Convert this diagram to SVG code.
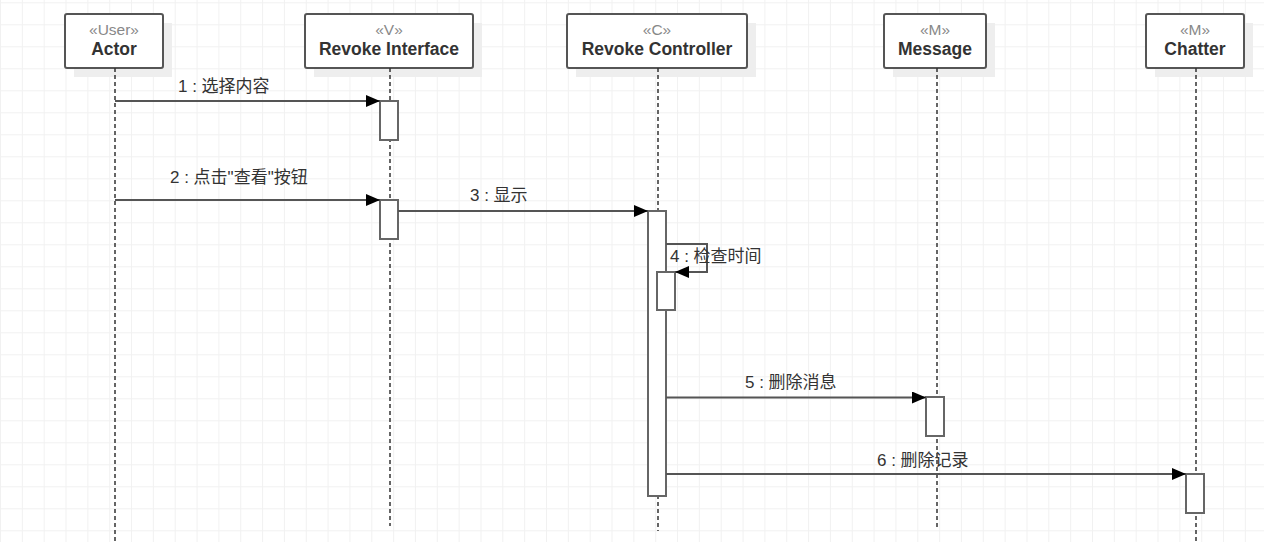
<svg xmlns="http://www.w3.org/2000/svg" width="1264" height="542" viewBox="0 0 1264 542">
<defs>
<pattern id="grid" patternUnits="userSpaceOnUse" x="0" y="2.3" width="21.84" height="22">
<path d="M0.5 0 V22 M0 0.5 H21.84" fill="none" stroke="#f1f1f1" stroke-width="1"/>
</pattern>
<marker id="arr" viewBox="0 0 14 12" refX="14" refY="6" markerWidth="14" markerHeight="12" markerUnits="userSpaceOnUse" orient="auto">
<path d="M0 0 L14 6 L0 12 Z" fill="#000"/>
</marker>
</defs>
<style>
.shadow{fill:#eeeeee}
.box{fill:#fff;stroke:#555;stroke-width:2}
.stereo{font-family:"Liberation Sans",Arial,sans-serif;font-size:15.5px;fill:#888;text-anchor:middle}
.name{font-family:"Liberation Sans",Arial,sans-serif;font-size:17.5px;font-weight:bold;fill:#333;text-anchor:middle}
.life{stroke:#333;stroke-width:1.5;stroke-dasharray:4 3;fill:none}
.act{fill:#fff;stroke:#666;stroke-width:2}
.msg{stroke:#555;stroke-width:2;fill:none;marker-end:url(#arr)}
.lbl{font-family:"Liberation Sans","Noto Sans CJK SC",sans-serif;font-size:17px;fill:#333}
</style>
<rect width="1264" height="542" fill="#fff"/>
<rect width="1264" height="542" fill="url(#grid)"/>

<g id="actor">
<rect class="shadow" x="74" y="23" width="98" height="54"/>
<rect class="box" x="65" y="14" width="98" height="54" rx="2"/>
<text class="stereo" x="114" y="35">«User»</text>
<text class="name" x="114" y="55">Actor</text>
<line class="life" x1="115" y1="68" x2="115" y2="542"/>
</g>

<g id="revoke-interface">
<rect class="shadow" x="314" y="23" width="168" height="54"/>
<rect class="box" x="305" y="14" width="168" height="54" rx="2"/>
<text class="stereo" x="389" y="35">«V»</text>
<text class="name" x="389" y="55">Revoke Interface</text>
<line class="life" x1="390" y1="68" x2="390" y2="526"/>
<rect class="act" x="380" y="101" width="18" height="39"/>
<rect class="act" x="380" y="200" width="18" height="39"/>
</g>

<g id="revoke-controller">
<rect class="shadow" x="576" y="23" width="180" height="54"/>
<rect class="box" x="567" y="14" width="180" height="54" rx="2"/>
<text class="stereo" x="657" y="35">«C»</text>
<text class="name" x="657" y="55">Revoke Controller</text>
<line class="life" x1="658" y1="68" x2="658" y2="531"/>
<rect class="act" x="648" y="211" width="18" height="285"/>
<rect class="act" x="657" y="272" width="18" height="38"/>
</g>

<g id="message">
<rect class="shadow" x="893" y="23" width="102" height="54"/>
<rect class="box" x="884" y="14" width="102" height="54" rx="2"/>
<text class="stereo" x="935" y="35">«M»</text>
<text class="name" x="935" y="55">Message</text>
<line class="life" x1="937" y1="68" x2="937" y2="528"/>
<rect class="act" x="926" y="397" width="18" height="39"/>
</g>

<g id="chatter">
<rect class="shadow" x="1155" y="23" width="98" height="54"/>
<rect class="box" x="1146" y="14" width="98" height="54" rx="2"/>
<text class="stereo" x="1195" y="35">«M»</text>
<text class="name" x="1195" y="55">Chatter</text>
<line class="life" x1="1196" y1="68" x2="1196" y2="542"/>
<rect class="act" x="1186" y="474" width="18" height="39"/>
</g>

<g id="connectors">
<line class="msg" x1="115" y1="101" x2="380" y2="101"/>
<text class="lbl" x="178" y="92">1 : 选择内容</text>
<line class="msg" x1="115" y1="200" x2="380" y2="200"/>
<text class="lbl" x="170" y="183">2 : 点击"查看"按钮</text>
<line class="msg" x1="398" y1="211" x2="648" y2="211"/>
<text class="lbl" x="470" y="201">3 : 显示</text>
<path class="msg" d="M666 244 H707 V272 H675"/>
<text class="lbl" x="670" y="262">4 : 检查时间</text>
<line class="msg" x1="666" y1="397.5" x2="926" y2="397.5"/>
<text class="lbl" x="745" y="388">5 : 删除消息</text>
<line class="msg" x1="666" y1="474" x2="1186" y2="474"/>
<text class="lbl" x="877" y="466">6 : 删除记录</text>
</g>
</svg>
